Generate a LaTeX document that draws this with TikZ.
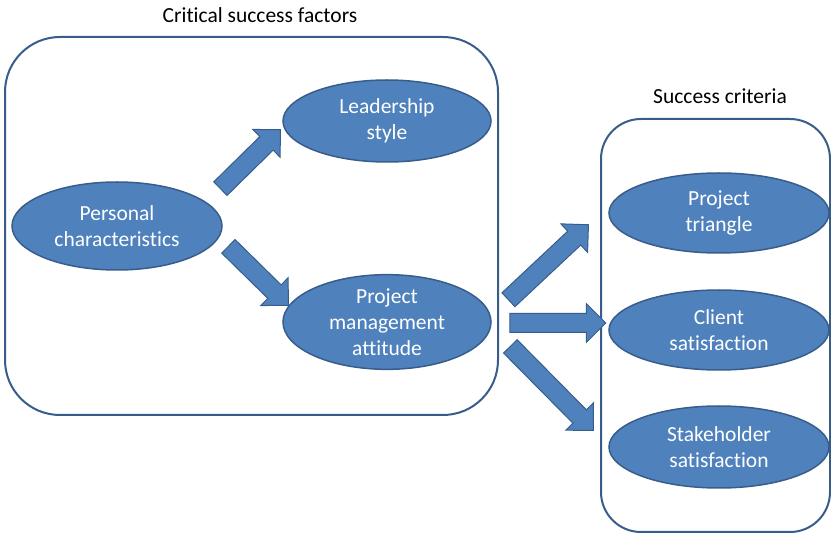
\documentclass[tikz,border=0pt]{standalone}
\usepackage{fontspec}
\setmainfont[Ligatures=NoCommon]{Carlito}
\usetikzlibrary{shapes.geometric,shapes.arrows,calc}
\definecolor{fillblue}{HTML}{4F81BD}
\definecolor{lineblue}{HTML}{385D8A}
\newcommand{\blockarrow}[2]{%
    \path let \p1=($(#2)-(#1)$) in
        node[bigarrow, rotate={atan2(\y1,\x1)}, minimum height={veclen(\x1,\y1)}] at ($(#1)!0.5!(#2)$) {};}
\begin{document}
\begin{tikzpicture}[x=1pt,y=-1pt]
    \tikzset{factor/.style={ellipse, draw=lineblue, line width=1.5pt, fill=fillblue, text=white, align=center, inner sep=0pt,
            font=\fontsize{21.5}{26}\selectfont, minimum width=210pt},
        groupbox/.style={draw=lineblue, line width=2pt, rounded corners=#1},
        heading/.style={font=\fontsize{21.5}{26}\selectfont},
        bigarrow/.style={single arrow, draw=lineblue, fill=fillblue, line width=1pt, inner xsep=0pt, inner ysep=9pt,
            single arrow head extend=10pt, single arrow head indent=0pt}}
    \useasboundingbox (0,0) rectangle (831,537);
    %Boxes
    \draw[groupbox=55pt] (5,37) rectangle (498,415);
    \draw[groupbox=40pt] (601,119) rectangle (830,532);
    \node[heading] (csftitle) at (260,15) {Critical success factors};
    \node[heading] (sctitle) at (720,96) {Success criteria};

    %Critical success factors
    \node[factor, minimum height=88pt] (personal) at (117,226) {Personal\\characteristics};
    \node[factor, minimum width=208pt, minimum height=82pt] (leadership) at (387,121) {Leadership\\style};
    \node[factor, minimum width=208pt, minimum height=90pt] (attitude) at (387,322) {Project\\management\\attitude};

    %Success criteria
    \node[factor, minimum width=220pt, minimum height=80pt] (triangle) at (719,213) {Project\\triangle};
    \node[factor, minimum width=220pt, minimum height=80pt] (client) at (719,330) {Client\\satisfaction};
    \node[factor, minimum width=220pt, minimum height=82pt] (stakeholder) at (719,447) {Stakeholder\\satisfaction};

    %Arrows
    \coordinate (a1s) at (217,192);  \coordinate (a1e) at (277,133);
    \coordinate (a2s) at (225,243);  \coordinate (a2e) at (285,302);
    \coordinate (a3s) at (505,303);  \coordinate (a3e) at (585,228);
    \coordinate (a4s) at (505,323);  \coordinate (a4e) at (601,323);
    \coordinate (a5s) at (507,343);  \coordinate (a5e) at (590,427);
    \blockarrow{a1s}{a1e}
    \blockarrow{a2s}{a2e}
    \blockarrow{a3s}{a3e}
    \blockarrow{a4s}{a4e}
    \blockarrow{a5s}{a5e}
\end{tikzpicture}
\end{document}
